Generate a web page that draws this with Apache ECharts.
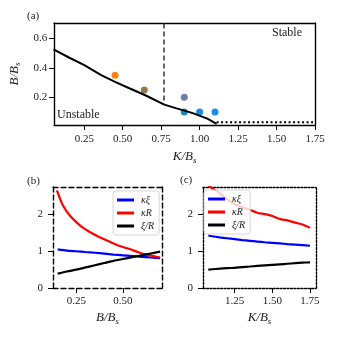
<!DOCTYPE html>
<html>
<head>
<meta charset="UTF-8">
<script src="https://cdn.jsdelivr.net/npm/echarts@6/dist/echarts.min.js"></script>
<style>
    html, body { margin: 0; padding: 0; background: #fff; }
    #chart { width: 338px; height: 338px; }
</style>
</head>
<body>
<div id="chart"></div>
<script>
// (a) stability diagram
var boundaryK = [0.05, 0.15, 0.25, 0.36, 0.45, 0.55, 0.65, 0.77, 0.85, 0.95, 1.05, 1.11];
var boundaryB = [0.525, 0.47, 0.418, 0.351, 0.305, 0.258, 0.212, 0.150, 0.125, 0.094, 0.055, 0.02];
var dottedK = [1.11, 1.75];
var dottedB = [0.03, 0.03];
var dashedK = [0.768, 0.768];
var dashedB = [0.70, 0.152];
var pointK = [0.45, 0.64, 0.90, 0.90, 1.00, 1.10];
var pointB = [0.35, 0.25, 0.20, 0.10, 0.10, 0.10];

// (b) vs B/Bs
var bX = [0.15, 0.20, 0.25, 0.30, 0.35, 0.40, 0.45, 0.50, 0.55, 0.60, 0.65, 0.70];
var bKxi = [1.05, 1.02, 1.00, 0.98, 0.96, 0.935, 0.91, 0.89, 0.87, 0.85, 0.83, 0.81];
var bXiR = [0.39, 0.45, 0.50, 0.56, 0.62, 0.68, 0.74, 0.79, 0.84, 0.89, 0.94, 0.99];
var bXR = [0.146, 0.178, 0.214, 0.268, 0.32, 0.375, 0.429, 0.48, 0.536, 0.59, 0.643, 0.70];
var bKR = [2.66, 2.25, 1.98, 1.71, 1.53, 1.38, 1.26, 1.15, 1.06, 0.96, 0.89, 0.83];

// (c) vs K/Bs
var cX = [1.075, 1.10, 1.15, 1.20, 1.25, 1.30, 1.35, 1.40, 1.45, 1.50, 1.55, 1.60, 1.65, 1.70, 1.75];
var cKxi = [1.43, 1.41, 1.38, 1.355, 1.33, 1.305, 1.285, 1.265, 1.245, 1.23, 1.215, 1.195, 1.18, 1.165, 1.15];
var cKR = [2.80, 2.72, 2.58, 2.42, 2.28, 2.20, 2.13, 2.05, 2.01, 1.96, 1.88, 1.84, 1.78, 1.73, 1.64];
var cXiR = [0.50, 0.51, 0.525, 0.54, 0.55, 0.57, 0.585, 0.60, 0.615, 0.63, 0.645, 0.66, 0.675, 0.69, 0.70];

var ticksAx = [0.25, 0.5, 0.75, 1.0, 1.25, 1.5, 1.75];
var ticksAy = [0.2, 0.4, 0.6];
var ticksBx = [0.25, 0.5];
var ticksCx = [1.25, 1.5, 1.75];
var ticksY = [0, 1, 2];

var seriesNames = ['κξ', 'κR', 'ξ/R'];
var pointColors = ['#ff7f0e', '#8f7a50', '#6b7fb3', '#1a8bbf', '#1f88e0', '#1e8cf2'];

var font = 'Liberation Serif';

function zip(xs, ys) {
    return xs.map(function (x, i) { return [x, ys[i]]; });
}

function nameStyle() {
    return {
        rich: {
            i: { fontFamily: font, fontStyle: 'italic', fontSize: 13, color: '#222', lineHeight: 16, verticalAlign: 'middle' },
            s: { fontFamily: font, fontStyle: 'italic', fontSize: 9, color: '#222', lineHeight: 12, verticalAlign: 'bottom' }
        }
    };
}

function mainAxis(grid, pos, min, max, ticks, digits, name, gap, ltype, margin) {
    return {
        type: 'value', gridIndex: grid, position: pos, min: min, max: max,
        splitLine: { show: false },
        axisLine: { show: true, onZero: false, lineStyle: { color: '#000', width: 1.4, type: ltype } },
        axisTick: { show: true, customValues: ticks, length: 5, lineStyle: { color: '#000', width: 1 } },
        axisLabel: {
            customValues: ticks, color: '#222', fontFamily: font, fontSize: 11, margin: margin,
            formatter: function (v) { return v.toFixed(digits); }
        },
        name: name, nameLocation: 'middle', nameGap: gap, nameTextStyle: nameStyle()
    };
}

function frameAxis(grid, pos, min, max, ltype) {
    return {
        type: 'value', gridIndex: grid, position: pos, min: min, max: max,
        splitLine: { show: false },
        axisLine: { show: true, onZero: false, lineStyle: { color: '#000', width: 1.4, type: ltype } },
        axisTick: { show: false },
        axisLabel: { show: false }
    };
}

function lineSeries(name, xi, data, color) {
    return {
        name: name, type: 'line', xAxisIndex: xi, yAxisIndex: xi, data: data, smooth: 0.25,
        showSymbol: false, symbol: 'none', lineStyle: { color: color, width: 2.2 }, itemStyle: { color: color }
    };
}

function legendAt(left, top, bg) {
    return {
        orient: 'vertical', left: left, top: top, data: seriesNames,
        icon: 'rect', itemWidth: 17, itemHeight: 3, itemGap: 3,
        padding: [4, 5, 4, 4], backgroundColor: bg, borderColor: '#d6d6d6', borderWidth: 1, borderRadius: 3,
        textStyle: { fontFamily: font, fontStyle: 'italic', fontSize: 10, color: '#222', padding: [0, 0, 0, 2] },
        selectedMode: false
    };
}

var dashA = [5, 3];
var dotC = [2, 1.5];

var scatterData = pointK.map(function (k, i) {
    return { value: [k, pointB[i]], itemStyle: { color: pointColors[i], opacity: 1 } };
});

var chart = echarts.init(document.getElementById('chart'));
chart.setOption({
    animation: false,
    backgroundColor: '#fff',
    grid: [
        { left: 53, top: 23, width: 262, height: 102 },
        { left: 53, top: 187, width: 109, height: 101 },
        { left: 203, top: 187, width: 113, height: 101 }
    ],
    xAxis: [
        mainAxis(0, 'bottom', 0.054, 1.75, ticksAx, 2, '{i|K/B}{s|s}', 24, 'solid', 9),
        frameAxis(0, 'top', 0.054, 1.75, 'solid'),
        mainAxis(1, 'bottom', 0.125, 0.71, ticksBx, 2, '{i|B/B}{s|s}', 22, dashA, 8),
        frameAxis(1, 'top', 0.125, 0.71, dashA),
        mainAxis(2, 'bottom', 1.04, 1.79, ticksCx, 2, '{i|K/B}{s|s}', 22, dotC, 8),
        frameAxis(2, 'top', 1.04, 1.79, dotC)
    ],
    yAxis: [
        mainAxis(0, 'left', 0.012, 0.704, ticksAy, 1, '{i|B/B}{s|s}', 30, 'solid', 7),
        frameAxis(0, 'right', 0.012, 0.704, 'solid'),
        mainAxis(1, 'left', 0, 2.75, ticksY, 0, '', 0, dashA, 10),
        frameAxis(1, 'right', 0, 2.75, dashA),
        mainAxis(2, 'left', 0, 2.75, ticksY, 0, '', 0, dotC, 10),
        frameAxis(2, 'right', 0, 2.75, dotC)
    ],
    legend: [legendAt(113, 191, 'rgba(255,255,255,0.85)'), legendAt(204, 190, 'rgba(255,255,255,0.8)')],
    graphic: [
        { type: 'text', left: 27, top: 11, style: { text: '(a)', font: '11px "Liberation Serif"', fill: '#222' } },
        { type: 'text', left: 27, top: 176, style: { text: '(b)', font: '11px "Liberation Serif"', fill: '#222' } },
        { type: 'text', left: 180, top: 175, style: { text: '(c)', font: '11px "Liberation Serif"', fill: '#222' } },
        { type: 'text', left: 272, top: 27, style: { text: 'Stable', font: '12px "Liberation Serif"', fill: '#222' } },
        { type: 'text', left: 57, top: 109, style: { text: 'Unstable', font: '12px "Liberation Serif"', fill: '#222' } }
    ],
    series: [
        {
            type: 'line', xAxisIndex: 0, yAxisIndex: 0, data: zip(boundaryK, boundaryB),
            symbol: 'none', lineStyle: { color: '#000', width: 2 }
        },
        {
            type: 'line', xAxisIndex: 0, yAxisIndex: 0, data: zip(dottedK, dottedB),
            symbol: 'none', lineStyle: { color: '#000', width: 2, type: [2, 2.5] }
        },
        {
            type: 'line', xAxisIndex: 0, yAxisIndex: 0, data: zip(dashedK, dashedB),
            symbol: 'none', lineStyle: { color: '#333', width: 1.5, type: [5, 3] }
        },
        {
            type: 'scatter', xAxisIndex: 0, yAxisIndex: 0, data: scatterData, symbolSize: 7
        },
        lineSeries('κξ', 2, zip(bX, bKxi), '#0000ff'),
        lineSeries('κR', 2, zip(bXR, bKR), '#ff0000'),
        lineSeries('ξ/R', 2, zip(bX, bXiR), '#000000'),
        lineSeries('κξ', 4, zip(cX, cKxi), '#0000ff'),
        lineSeries('κR', 4, zip(cX, cKR), '#ff0000'),
        lineSeries('ξ/R', 4, zip(cX, cXiR), '#000000')
    ]
});
</script>
</body>
</html>
